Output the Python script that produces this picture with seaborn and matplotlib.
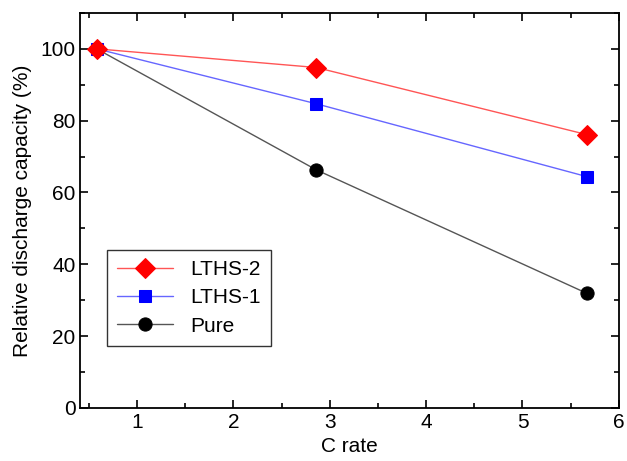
import matplotlib
matplotlib.use("Agg")
import matplotlib.pyplot as plt
import seaborn as sns
import pandas as pd
from matplotlib.ticker import MultipleLocator

# data
c_rate = [0.58, 2.86, 5.67]
lths2 = [100, 94.8, 76.1]
lths1 = [100, 84.7, 64.4]
pure = [100, 66.3, 31.9]

sns.set_style("ticks")
plt.rcParams['font.family'] = ['Liberation Sans', 'DejaVu Sans']
plt.rcParams['text.color'] = 'black'
plt.rcParams['axes.labelcolor'] = 'black'

fig = plt.figure(figsize=(6.27, 4.61), dpi=100)
ax = fig.add_axes([0.128, 0.115, 0.859, 0.857])

# drawn bottom-up so the red diamond sits on top at the first point
series = [
    ("Pure", pure, "#000000", "#555555", "o", 9.5, 1),
    ("LTHS-1", lths1, "#0000ff", "#6666ff", "s", 9, 2),
    ("LTHS-2", lths2, "#ff0000", "#ff5555", "D", 10, 3),
]
for name, vals, mc, lc, mk, ms, z in series:
    df = pd.DataFrame({"C rate": c_rate, "val": vals})
    sns.lineplot(data=df, x="C rate", y="val", ax=ax, color=lc, lw=1,
                 marker=mk, markersize=ms, markerfacecolor=mc,
                 markeredgecolor=mc, label=name, zorder=z)

ax.set_xlim(0.41, 6.0)
ax.set_ylim(0, 110)
ax.xaxis.set_major_locator(MultipleLocator(1))
ax.xaxis.set_minor_locator(MultipleLocator(0.5))
ax.yaxis.set_major_locator(MultipleLocator(20))
ax.yaxis.set_minor_locator(MultipleLocator(10))
ax.tick_params(which="both", direction="in", top=True, right=True,
               labelsize=15, width=1.2, colors="black")
ax.tick_params(which="major", length=6)
ax.tick_params(which="minor", length=3.5)
for s in ax.spines.values():
    s.set_linewidth(1.3)
    s.set_color("black")

ax.set_xlabel("C rate", fontsize=15, labelpad=4)
ax.set_ylabel("Relative discharge capacity (%)", fontsize=15, labelpad=6)

handles, labels = ax.get_legend_handles_labels()
leg = ax.legend(handles[::-1], labels[::-1], loc="lower left",
                bbox_to_anchor=(0.03, 0.13), fontsize=15,
                frameon=True, fancybox=False, edgecolor="black",
                handlelength=2.7, borderpad=0.5, labelspacing=0.45)
leg.get_frame().set_linewidth(1.0)

fig.savefig("out.png", dpi=100)
